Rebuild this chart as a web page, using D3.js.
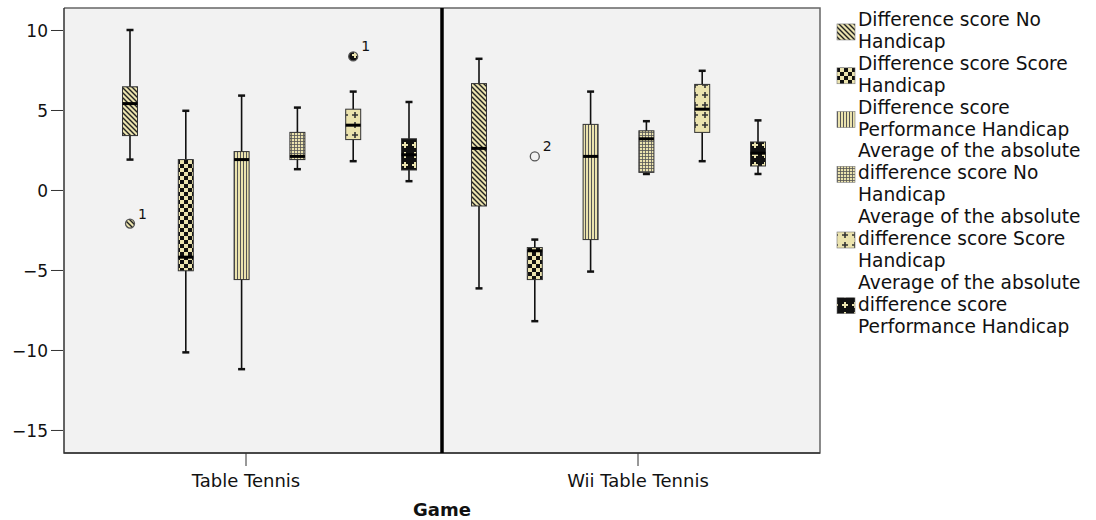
<!DOCTYPE html>
<html><head><meta charset="utf-8">
<script src="https://cdn.jsdelivr.net/npm/d3@7"></script>
<style>body{margin:0;background:#fff}svg{display:block}text{font-family:"DejaVu Sans",sans-serif;fill:#111}</style>
</head><body><svg id="chart" width="1096" height="520"></svg>
<script>
const groups = ["Table Tennis", "Wii Table Tennis"];
const seriesLabels = [
  ["Difference score No", "Handicap"],
  ["Difference score Score", "Handicap"],
  ["Difference score", "Performance Handicap"],
  ["Average of the absolute", "difference score No", "Handicap"],
  ["Average of the absolute", "difference score Score", "Handicap"],
  ["Average of the absolute", "difference score", "Performance Handicap"]
];
const yTicks = [10, 5, 0, -5, -10, -15];
// Table Tennis five-number summaries (per series)
const ttLow    = [1.9, -10.15, -11.2, 1.3, 1.8, 0.55];
const ttQ1     = [3.4, -5.05, -5.6, 1.9, 3.15, 1.25];
const ttMedian = [5.4, -4.2, 1.9, 2.1, 4.05, 2.2];
const ttQ3     = [6.45, 1.9, 2.4, 3.6, 5.05, 3.2];
const ttHigh   = [10.0, 4.95, 5.9, 5.15, 6.15, 5.5];
// Wii Table Tennis five-number summaries
const wiiLow    = [-6.15, -8.2, -5.1, 1.0, 1.8, 1.0];
const wiiQ1     = [-1.0, -5.6, -3.1, 1.1, 3.6, 1.5];
const wiiMedian = [2.6, -3.8, 2.1, 3.2, 5.05, 2.3];
const wiiQ3     = [6.65, -3.6, 4.1, 3.7, 6.6, 3.0];
const wiiHigh   = [8.2, -3.1, 6.15, 4.3, 7.45, 4.35];
// Outliers
const outlierGroup  = ["Table Tennis", "Table Tennis", "Wii Table Tennis"];
const outlierSeries = [0, 4, 1];
const outlierValue  = [-2.1, 8.35, 2.1];
const outlierLabel  = ["1", "1", "2"];

const stats = {
  "Table Tennis": {low: ttLow, q1: ttQ1, med: ttMedian, q3: ttQ3, high: ttHigh},
  "Wii Table Tennis": {low: wiiLow, q1: wiiQ1, med: wiiMedian, q3: wiiQ3, high: wiiHigh}
};

const CREAM = "#ebe3ae";
const plot = {left: 64, top: 8, right: 820, bottom: 453};
const svg = d3.select("#chart");

const y = d3.scaleLinear().domain([-16.44, 11.375]).range([plot.bottom, plot.top]);
const x0 = d3.scaleBand().domain(groups).range([plot.left, plot.right]);
const x1 = d3.scalePoint().domain(d3.range(seriesLabels.length)).range([0, 279]);
const groupOffset = {"Table Tennis": 66, "Wii Table Tennis": 37};
const cx = (g, i) => x0(g) + groupOffset[g] + x1(i);
const xLabel = d3.scalePoint().domain(groups).range([246, 638]);

// patterns
const defs = svg.append("defs");
function pat(id, w, h, bg) {
  const p = defs.append("pattern").attr("id", id).attr("patternUnits", "userSpaceOnUse")
    .attr("width", w).attr("height", h);
  p.append("rect").attr("width", w).attr("height", h).attr("fill", bg);
  return p;
}
pat("p0", 5, 5, CREAM).append("path").attr("d", "M-1,-1L6,6M-1,4L1,6M4,-1L6,1")
  .attr("stroke", "#222").attr("stroke-width", 1.4);
const p1 = pat("p1", 8, 8, CREAM);
p1.append("rect").attr("width", 4).attr("height", 4).attr("fill", "#111");
p1.append("rect").attr("x", 4).attr("y", 4).attr("width", 4).attr("height", 4).attr("fill", "#111");
pat("p2", 3, 3, CREAM).append("path").attr("d", "M0.5,0V3").attr("stroke", "#555").attr("stroke-width", 1);
pat("p3", 3, 3, CREAM).append("path").attr("d", "M0.5,0V3M0,0.5H3").attr("stroke", "#555").attr("stroke-width", 0.8);
pat("p4", 10, 10, CREAM).append("path").attr("d", "M5,2V8M2,5H8").attr("stroke", "#333").attr("stroke-width", 1.6);
pat("p5", 10, 10, "#111").append("path").attr("d", "M5,2V8M2,5H8").attr("stroke", CREAM).attr("stroke-width", 2);

// background
svg.append("rect").attr("x", plot.left).attr("y", plot.top)
  .attr("width", plot.right - plot.left).attr("height", plot.bottom - plot.top).attr("fill", "#f2f2f2");

// borders
svg.append("path").attr("d", `M${plot.left},${plot.bottom}H${plot.right}V${plot.top}H${plot.left}`)
  .attr("fill", "none").attr("stroke", "#666").attr("stroke-width", 1.5);
svg.append("path").attr("d", `M${plot.left},${plot.top}V${plot.bottom}H${plot.right}`)
  .attr("fill", "none").attr("stroke", "#333").attr("stroke-width", 1.5);

// panel separator
svg.append("line").attr("x1", x0(groups[1])).attr("x2", x0(groups[1]))
  .attr("y1", plot.top).attr("y2", plot.bottom).attr("stroke", "#000").attr("stroke-width", 3.5);

// y axis
const yAxis = svg.append("g").attr("transform", `translate(${plot.left - 1},0)`)
  .call(d3.axisLeft(y).tickValues(yTicks).tickSize(12).tickPadding(3));
yAxis.select(".domain").remove();
yAxis.selectAll("line").attr("stroke", "#333");
yAxis.selectAll("text").attr("font-size", 17).attr("font-family", "DejaVu Sans").attr("fill", "#111").attr("dy", "0.4em");

// x axis
const xg = svg.append("g");
xg.selectAll("line").data(groups).join("line")
  .attr("x1", d => xLabel(d)).attr("x2", d => xLabel(d))
  .attr("y1", plot.bottom).attr("y2", plot.bottom + 13).attr("stroke", "#333");
xg.selectAll("text").data(groups).join("text")
  .attr("x", d => xLabel(d)).attr("y", 487).attr("text-anchor", "middle")
  .attr("font-size", 18).text(d => d);
svg.append("text").attr("x", 442).attr("y", 516).attr("text-anchor", "middle")
  .attr("font-size", 18).attr("font-weight", "bold").text("Game");

// boxes
const boxes = groups.flatMap(g => d3.range(seriesLabels.length).map(i => ({
  g, i, low: stats[g].low[i], q1: stats[g].q1[i], med: stats[g].med[i], q3: stats[g].q3[i], high: stats[g].high[i]
})));
const bw = 15, cw = 7;
const bg = svg.append("g").selectAll("g").data(boxes).join("g");
bg.append("line").attr("x1", d => cx(d.g, d.i)).attr("x2", d => cx(d.g, d.i))
  .attr("y1", d => y(d.high)).attr("y2", d => y(d.low)).attr("stroke", "#111").attr("stroke-width", 1.6);
bg.append("line").attr("x1", d => cx(d.g, d.i) - cw / 2).attr("x2", d => cx(d.g, d.i) + cw / 2)
  .attr("y1", d => y(d.high)).attr("y2", d => y(d.high)).attr("stroke", "#111").attr("stroke-width", 2.5);
bg.append("line").attr("x1", d => cx(d.g, d.i) - cw / 2).attr("x2", d => cx(d.g, d.i) + cw / 2)
  .attr("y1", d => y(d.low)).attr("y2", d => y(d.low)).attr("stroke", "#111").attr("stroke-width", 2.5);
bg.append("rect").attr("x", d => cx(d.g, d.i) - bw / 2).attr("width", bw)
  .attr("y", d => y(d.q3)).attr("height", d => y(d.q1) - y(d.q3))
  .attr("fill", d => `url(#p${d.i})`).attr("stroke", "#333").attr("stroke-width", 1);
bg.append("line").attr("x1", d => cx(d.g, d.i) - bw / 2).attr("x2", d => cx(d.g, d.i) + bw / 2)
  .attr("y1", d => y(d.med)).attr("y2", d => y(d.med)).attr("stroke", "#000").attr("stroke-width", 3);

// outliers
const outliers = outlierValue.map((v, k) => ({g: outlierGroup[k], i: outlierSeries[k], v, label: outlierLabel[k]}));
const og = svg.append("g").selectAll("g").data(outliers).join("g");
og.append("circle").attr("cx", d => cx(d.g, d.i)).attr("cy", d => y(d.v)).attr("r", 4.5)
  .attr("fill", d => d.g === groups[1] ? "#f2f2f2" : (d.i === 4 ? "url(#p5)" : `url(#p${d.i})`))
  .attr("stroke", "#555").attr("stroke-width", 1.3);
og.append("text").attr("x", d => cx(d.g, d.i) + 8).attr("y", d => y(d.v) - 5)
  .attr("font-family", "Liberation Serif").attr("font-size", 14).attr("fill", "#333").text(d => d.label);

// legend
const lineH = 21.9, legX = 837;
let base = 26;
const leg = svg.append("g");
seriesLabels.forEach((lines, i) => {
  const firstBase = base;
  const lastBase = base + (lines.length - 1) * lineH;
  const centre = (firstBase + lastBase) / 2 - 5;
  leg.append("rect").attr("x", legX).attr("y", centre - 8).attr("width", 18).attr("height", 16)
    .attr("fill", `url(#p${i})`).attr("stroke", "#777").attr("stroke-width", 0.6);
  lines.forEach((t, j) => {
    leg.append("text").attr("x", legX + 21).attr("y", firstBase + j * lineH)
      .attr("font-size", 18.6).text(t);
  });
  base = lastBase + lineH;
});
</script></body></html>
